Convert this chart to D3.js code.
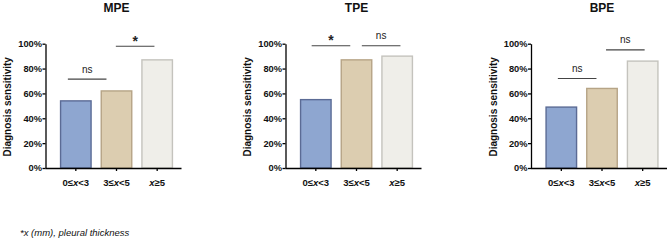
<!DOCTYPE html>
<html>
<head>
<meta charset="utf-8">
<script src="https://cdn.jsdelivr.net/npm/d3@7"></script>
<style>
  body { margin: 0; background: #fff; }
  svg { font-family: "Liberation Sans", Arial, sans-serif; }
</style>
</head>
<body>
<div id="container"></div>
<script>
/*** DATA ***/
const panels = ["MPE", "TPE", "BPE"]
const categories = ["0≤x<3", "3≤x<5", "x≥5"]
const mpeValues = [54, 62, 87]
const tpeValues = [55, 87, 90]
const bpeValues = [49, 64, 86]
const yTicks = [0, 20, 40, 60, 80, 100]
// significance brackets: [fromIndex, toIndex, label]
const mpeSig = [[0, 1, "ns"], [1, 2, "*"]]
const tpeSig = [[0, 1, "*"], [1, 2, "ns"]]
const bpeSig = [[0, 1, "ns"], [1, 2, "ns"]]
const footnote = "*x (mm), pleural thickness"

const values = [mpeValues, tpeValues, bpeValues]
const sigs = [mpeSig, tpeSig, bpeSig]

/*** LAYOUT / STYLE ***/
const fills = ["#8ea6d0", "#dccdb0", "#efeee9"]
const strokes = ["#5b6b95", "#b6a486", "#c4c3bd"]
// bracket placement per panel: [level on y scale, x shift from midpoint]
const bracketPos = [
  [[71.5, -9], [98, -1.7]],
  [[98.3, -5.2], [98.3, 4.3]],
  [[72, -4.5], [95, 3]]
]

const width = 669, height = 240
const axisX = [45.5, 285.5, 531]     // y-axis position of each panel
const plotTop = 43.7, plotBottom = 168

const svg = d3.select("#container").append("svg")
  .attr("width", width)
  .attr("height", height)

panels.forEach((name, p) => {
  const x0 = axisX[p]
  const x = d3.scaleBand()
    .domain(categories)
    .range([x0 + 11, x0 + 131])
    .paddingInner(0.25)
    .paddingOuter(0.1)
  const y = d3.scaleLinear().domain([0, 100]).range([plotBottom, plotTop])

  const g = svg.append("g")

  // bars
  g.selectAll("rect.bar")
    .data(values[p])
    .join("rect")
    .attr("class", "bar")
    .attr("x", (d, i) => x(categories[i]))
    .attr("y", d => y(d))
    .attr("width", x.bandwidth())
    .attr("height", d => plotBottom - y(d))
    .attr("fill", (d, i) => fills[i])
    .attr("stroke", (d, i) => strokes[i])
    .attr("stroke-width", 1.4)

  // y axis
  const yAxis = g.append("g")
    .attr("transform", `translate(${x0},0)`)
    .call(d3.axisLeft(y).tickValues(yTicks).tickFormat(d => d + "%").tickSize(3).tickSizeOuter(0))
  yAxis.select(".domain").attr("stroke", "#000").attr("stroke-width", 1.3)
  yAxis.selectAll(".tick line").attr("stroke", "#000").attr("stroke-width", 1.3)
  yAxis.selectAll(".tick text")
    .attr("x", -3.5)
    .attr("fill", "#111")
    .style("font-size", "9.3px")
    .style("font-weight", "bold")
    .style("font-family", "'Liberation Sans', Arial, sans-serif")

  // x axis
  const xAxis = g.append("g")
    .attr("transform", `translate(0,${plotBottom})`)
    .call(d3.axisBottom(x).tickSize(3).tickSizeOuter(0))
  xAxis.select(".domain").attr("d", `M${x0},0.5H${x0 + 136}`).attr("stroke", "#000").attr("stroke-width", 1.3)
  xAxis.selectAll(".tick line").attr("stroke", "#000").attr("stroke-width", 1.3)
  xAxis.selectAll(".tick text").remove()
  xAxis.selectAll(".tick").append("text")
    .attr("y", 18)
    .attr("text-anchor", "middle")
    .attr("fill", "#111")
    .style("font-size", "9.5px")
    .style("font-weight", "bold")
    .style("font-family", "'Liberation Sans', Arial, sans-serif")
    .each(function(d) {
      const t = d3.select(this)
      const parts = d.split("x")
      t.append("tspan").text(parts[0])
      t.append("tspan").attr("font-style", "italic").text("x")
      t.append("tspan").text(parts[1])
    })

  // y label
  g.append("text")
    .attr("transform", `translate(${x0 - 38},${(plotTop + plotBottom) / 2 + 1}) rotate(-90)`)
    .attr("text-anchor", "middle")
    .attr("dy", "0.35em")
    .attr("fill", "#111")
    .style("font-size", "10px")
    .style("font-weight", "bold")
    .text("Diagnosis sensitivity")

  // title
  g.append("text")
    .attr("x", x0 + 71)
    .attr("y", 11.5)
    .attr("text-anchor", "middle")
    .attr("fill", "#111")
    .style("font-size", "12px")
    .style("font-weight", "bold")
    .text(name)

  // brackets
  sigs[p].forEach(([a, b, lab], k) => {
    const [level, shift] = bracketPos[p][k]
    const mid = (x(categories[a]) + x(categories[b])) / 2 + x.bandwidth() / 2 + shift
    const ly = y(level)
    g.append("line")
      .attr("x1", mid - 19.3).attr("x2", mid + 19.3)
      .attr("y1", ly).attr("y2", ly)
      .attr("stroke", "#444").attr("stroke-width", 1.1)
    g.append("text")
      .attr("x", mid)
      .attr("y", lab === "*" ? ly - 0.5 : ly - 6.5)
      .attr("text-anchor", "middle")
      .attr("fill", "#222")
      .style("font-size", lab === "*" ? "14px" : "10px")
      .style("font-weight", lab === "*" ? "bold" : "normal")
      .text(lab)
  })
})

svg.append("text")
  .attr("x", 20)
  .attr("y", 236)
  .style("font-size", "9.5px")
  .style("font-style", "italic")
  .attr("fill", "#111")
  .text(footnote)
</script>
</body>
</html>
